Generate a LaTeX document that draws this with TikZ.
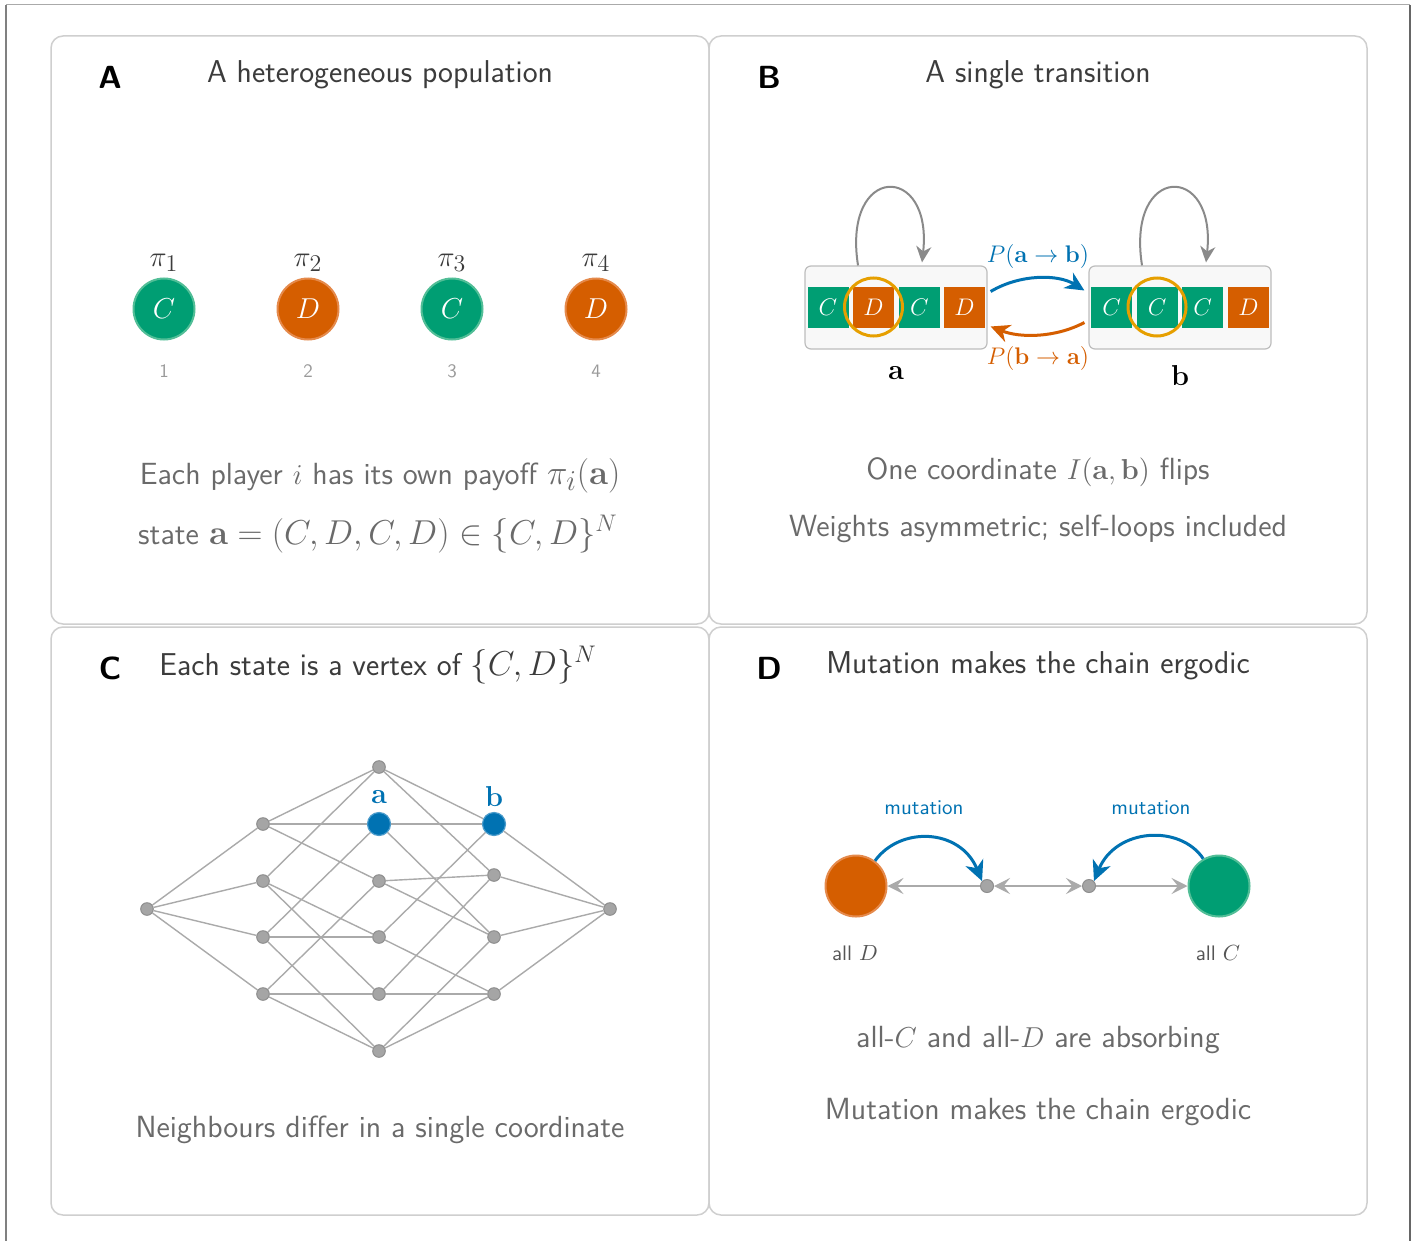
\documentclass[tikz,border=0pt]{standalone}
\usetikzlibrary{arrows.meta,calc}
\DeclareMathSizes{15.3}{15.3}{12.2}{9.5}
\DeclareMathSizes{15.8}{15.8}{12.6}{9.8}
\DeclareMathSizes{17}{17}{13.4}{10.5}
\DeclareMathSizes{16.3}{16.3}{12.9}{10}
\DeclareMathSizes{14}{14}{11.6}{9}
\DeclareMathSizes{12}{12}{9.5}{7.5}
\definecolor{cgreen}{HTML}{009E73}
\definecolor{cgreenb}{HTML}{52BE97}
\definecolor{corange}{HTML}{D55E00}
\definecolor{corangeb}{HTML}{E58A4C}
\definecolor{cblue}{HTML}{0072B2}
\definecolor{cblueb}{HTML}{4A9BCB}
\definecolor{cyellow}{HTML}{E69F00}
\definecolor{ctitle}{HTML}{3C3C3C}
\definecolor{cbody}{HTML}{6A6A6A}
\definecolor{cpanel}{HTML}{CFCFCF}
\definecolor{cedge}{HTML}{AAAAAA}
\definecolor{cnode}{HTML}{A5A5A5}
\definecolor{cnodeb}{HTML}{8E8E8E}
\definecolor{cloop}{HTML}{8A8A8A}
\definecolor{cnum}{HTML}{9A9A9A}
\definecolor{cboxb}{HTML}{BDBDBD}
\definecolor{cboxf}{HTML}{F8F8F8}
\definecolor{csmall}{HTML}{555555}
\newcommand{\bigmath}[1]{{\fontsize{17}{20}\selectfont$#1$}}
\newcommand{\midmath}[1]{{\fontsize{16.3}{19}\selectfont$#1$}}
\begin{document}
\begin{tikzpicture}[x=0.5pt,y=-0.5pt,
  panel/.style={draw=cpanel, line width=0.75pt, rounded corners=6pt},
  plabel/.style={font=\fontsize{16}{19}\selectfont\sffamily\bfseries, text=black, anchor=base, inner sep=0pt},
  ptitle/.style={font=\fontsize{15.8}{18}\selectfont\sffamily, text=ctitle, anchor=base, inner sep=0pt},
  bodytxt/.style={font=\fontsize{15.3}{18}\selectfont\sffamily, text=cbody, anchor=base, inner sep=0pt},
  agentC/.style={circle, fill=cgreen, draw=cgreenb, line width=1pt, minimum size=30.5pt, inner sep=0pt, text=white, font=\fontsize{14}{16}\selectfont},
  agentD/.style={circle, fill=corange, draw=corangeb, line width=1pt, minimum size=30.5pt, inner sep=0pt, text=white, font=\fontsize{14}{16}\selectfont},
  pilab/.style={text=ctitle, font=\fontsize{14}{16}\selectfont, inner sep=0pt},
  numlab/.style={text=cnum, font=\fontsize{9.5}{11}\selectfont\sffamily, inner sep=0pt},
  stbox/.style={draw=cboxb, fill=cboxf, rounded corners=3pt, minimum width=91pt, minimum height=41.5pt, line width=0.6pt, inner sep=0pt},
  cellC/.style={rectangle, fill=cgreen, minimum size=20.5pt, inner sep=0pt, text=white, font=\fontsize{11.5}{13}\selectfont},
  cellD/.style={rectangle, fill=corange, minimum size=20.5pt, inner sep=0pt, text=white, font=\fontsize{11.5}{13}\selectfont},
  hl/.style={circle, draw=cyellow, line width=1.5pt, minimum size=29pt, inner sep=0pt},
  selfloop/.style={draw=cloop, line width=1pt, -{Stealth[length=8pt,width=7.5pt,inset=2.5pt]}},
  trans/.style={line width=1.5pt, -{Stealth[length=9.5pt,width=9pt,inset=3pt]}},
  plab/.style={font=\fontsize{12}{14}\selectfont, inner sep=0pt},
  gnode/.style={circle, fill=cnode, draw=cnodeb, line width=0.5pt, minimum size=6.3pt, inner sep=0pt},
  bnode/.style={circle, fill=cblue, draw=cblueb, line width=0.6pt, minimum size=11.5pt, inner sep=0pt},
  gedge/.style={draw=cedge, line width=0.7pt},
  garrow/.style={draw=cedge, line width=0.8pt},
  gtip/.tip={Stealth[length=8pt,width=8pt,inset=3.2pt,color=cedge]},
  mutarrow/.style={draw=cblue, line width=1.5pt, -{Stealth[length=10pt,width=9.5pt,inset=3pt]}},
  mutlab/.style={text=cblue, font=\fontsize{10.5}{12}\selectfont\sffamily, inner sep=0pt},
  smalllab/.style={text=csmall, font=\fontsize{10.5}{12}\selectfont\sffamily, inner sep=0pt}
]
\useasboundingbox (0,0) rectangle (1422,1241);
\fill[white] (0,0) rectangle (1422,1241);
% outer frame
\draw[draw=cedge, line width=0.5pt] (6,1241) -- (6,5) -- (1410,5);
\draw[draw=gray!80!black, line width=1pt] (1410,5) -- (1410,1241);
\draw[draw=gray, line width=0.6pt] (6,5) -- (6,1241);
% panels
\draw[panel] (51,36) rectangle (709,624);
\draw[panel] (709,36) rectangle (1367,624);
\draw[panel] (51,627) rectangle (709,1215);
\draw[panel] (709,627) rectangle (1367,1215);
% panel labels and titles
\node[plabel] (lA) at (110,89) {A};
\node[plabel] (lB) at (769,89) {B};
\node[plabel] (lC) at (110,679) {C};
\node[plabel] (lD) at (769,679) {D};
\node[ptitle] (tA) at (380,83) {A heterogeneous population};
\node[ptitle] (tB) at (1038,83) {A single transition};
\node[ptitle] (tC) at (378,675) {Each state is a vertex of \midmath{\{C,D\}^N}};
\node[ptitle] (tD) at (1038,673) {Mutation makes the chain ergodic};

% ---------- Panel A ----------
\node[agentC] (p1) at (164,309) {$C$};
\node[agentD] (p2) at (308,309) {$D$};
\node[agentC] (p3) at (452,309) {$C$};
\node[agentD] (p4) at (596,309) {$D$};
\node[pilab] (pi1) at (164,263) {$\pi_1$};
\node[pilab] (pi2) at (308,263) {$\pi_2$};
\node[pilab] (pi3) at (452,263) {$\pi_3$};
\node[pilab] (pi4) at (596,263) {$\pi_4$};
\node[numlab] (n1) at (164,371) {1};
\node[numlab] (n2) at (308,371) {2};
\node[numlab] (n3) at (452,371) {3};
\node[numlab] (n4) at (596,371) {4};
\node[bodytxt] (bA1) at (380,484) {Each player $i$ has its own payoff \bigmath{\pi_i(\mathbf{a})}};
\node[bodytxt] (bA2) at (378,544) {state \midmath{\mathbf{a}=(C,D,C,D)\in\{C,D\}^N}};

% ---------- Panel B ----------
\node[stbox] (boxa) at (896,307.5) {};
\node[stbox] (boxb) at (1180,307.5) {};
\node[cellC] (a1) at (828,307) {$C$};
\node[cellD] (a2) at (873.5,307) {$D$};
\node[cellC] (a3) at (919.5,307) {$C$};
\node[cellD] (a4) at (964.5,307) {$D$};
\node[cellC] (b1) at (1111.5,307) {$C$};
\node[cellC] (b2) at (1157,307) {$C$};
\node[cellC] (b3) at (1202.5,307) {$C$};
\node[cellD] (b4) at (1248.5,307) {$D$};
\node[hl] (ha) at (873.5,307) {};
\node[hl] (hb) at (1157,307) {};
\coordinate (la1) at ($(boxa.north)+(-38,0)$);
\coordinate (la2) at ($(boxa.north)+(26,-3)$);
\coordinate (lb1) at ($(boxb.north)+(-38,0)$);
\coordinate (lb2) at ($(boxb.north)+(26,-3)$);
\draw[selfloop] (la1) .. controls ($(la1)+(-16,-102)$) and ($(la2)+(11,-100)$) .. (la2);
\draw[selfloop] (lb1) .. controls ($(lb1)+(-16,-102)$) and ($(lb2)+(11,-100)$) .. (lb2);
\coordinate (ab1) at ($(boxa.east)+(3,-16)$);
\coordinate (ab2) at ($(boxb.west)+(-4,-17)$);
\coordinate (ba1) at ($(boxb.west)+(-4,15)$);
\coordinate (ba2) at ($(boxa.east)+(3,19)$);
\draw[trans, draw=cblue] (ab1) .. controls (1020,274) and (1058,274) .. (ab2);
\draw[trans, draw=corange] (ba1) .. controls (1055,338) and (1020,338) .. (ba2);
\node[plab, text=cblue] (pab) at (1038,256) {$P(\mathbf{a}\to\mathbf{b})$};
\node[plab, text=corange] (pba) at (1038,358) {$P(\mathbf{b}\to\mathbf{a})$};
\node[font=\fontsize{15}{17}\selectfont, inner sep=0pt] (la) at (896,373) {$\mathbf{a}$};
\node[font=\fontsize{15}{17}\selectfont, inner sep=0pt] (lb) at (1180,375) {$\mathbf{b}$};
\node[bodytxt] (bB1) at (1038,479) {One coordinate $I(\mathbf{a},\mathbf{b})$ flips};
\node[bodytxt] (bB2) at (1038,536) {Weights asymmetric; self-loops included};

% ---------- Panel C ----------
\node[gnode] (gL) at (147,909) {};
\node[gnode] (gU1) at (263,824) {};
\node[gnode] (gU2) at (263,881) {};
\node[gnode] (gU3) at (263,937) {};
\node[gnode] (gU4) at (263,994) {};
\node[gnode] (gM1) at (379,767) {};
\node[bnode] (gM2) at (379,824) {};
\node[gnode] (gM3) at (379,881) {};
\node[gnode] (gM4) at (379,937) {};
\node[gnode] (gM5) at (379,994) {};
\node[gnode] (gM6) at (379,1051) {};
\node[bnode] (gW1) at (494,824) {};
\node[gnode] (gW2) at (494,875) {};
\node[gnode] (gW3) at (494,937) {};
\node[gnode] (gW4) at (494,994) {};
\node[gnode] (gR) at (610,909) {};
\foreach \s/\t in {gL/gU1,gL/gU2,gL/gU3,gL/gU4,
  gU1/gM1,gU1/gM2,gU1/gM3,gU2/gM1,gU2/gM4,gU2/gM5,
  gU3/gM2,gU3/gM4,gU3/gM6,gU4/gM3,gU4/gM5,gU4/gM6,
  gM1/gW1,gM1/gW2,gM2/gW1,gM2/gW3,gM3/gW2,gM3/gW3,
  gM4/gW1,gM4/gW4,gM5/gW2,gM5/gW4,gM6/gW3,gM6/gW4,
  gW1/gR,gW2/gR,gW3/gR,gW4/gR}
  \draw[gedge] (\s) -- (\t);
\node[text=cblue, font=\fontsize{15}{17}\selectfont, inner sep=0pt] (gla) at (379,797) {$\mathbf{a}$};
\node[text=cblue, font=\fontsize{15}{17}\selectfont, inner sep=0pt] (glb) at (494,796) {$\mathbf{b}$};
\node[bodytxt] (bC1) at (380,1137) {Neighbours differ in a single coordinate};

% ---------- Panel D ----------
\node[agentD] (allD) at (856,886) {};
\node[agentC] (allC) at (1219,886) {};
\node[gnode, minimum size=6.5pt] (s1) at (987,886) {};
\node[gnode, minimum size=6.5pt] (s2) at (1089,886) {};
\draw[garrow, -gtip] (s1) -- (allD);
\draw[garrow, gtip-gtip] (s1) -- (s2);
\draw[garrow, -gtip] (s2) -- (allC);
\coordinate (m1a) at (allD.53);
\coordinate (m2a) at (allC.120);
\draw[mutarrow] (m1a) .. controls (900,826) and (960,828) .. (s1.north west);
\draw[mutarrow] (m2a) .. controls (1180,824) and (1116,828) .. (s2.north east);
\node[mutlab] (mut1) at (924,808) {mutation};
\node[mutlab] (mut2) at (1151,808) {mutation};
\node[smalllab] (aD) at (855,953) {all $D$};
\node[smalllab] (aC) at (1218,953) {all $C$};
\node[bodytxt] (bD1) at (1038,1047) {all-$C$ and all-$D$ are absorbing};
\node[bodytxt] (bD2) at (1038,1119) {Mutation makes the chain ergodic};
\end{tikzpicture}
\end{document}
